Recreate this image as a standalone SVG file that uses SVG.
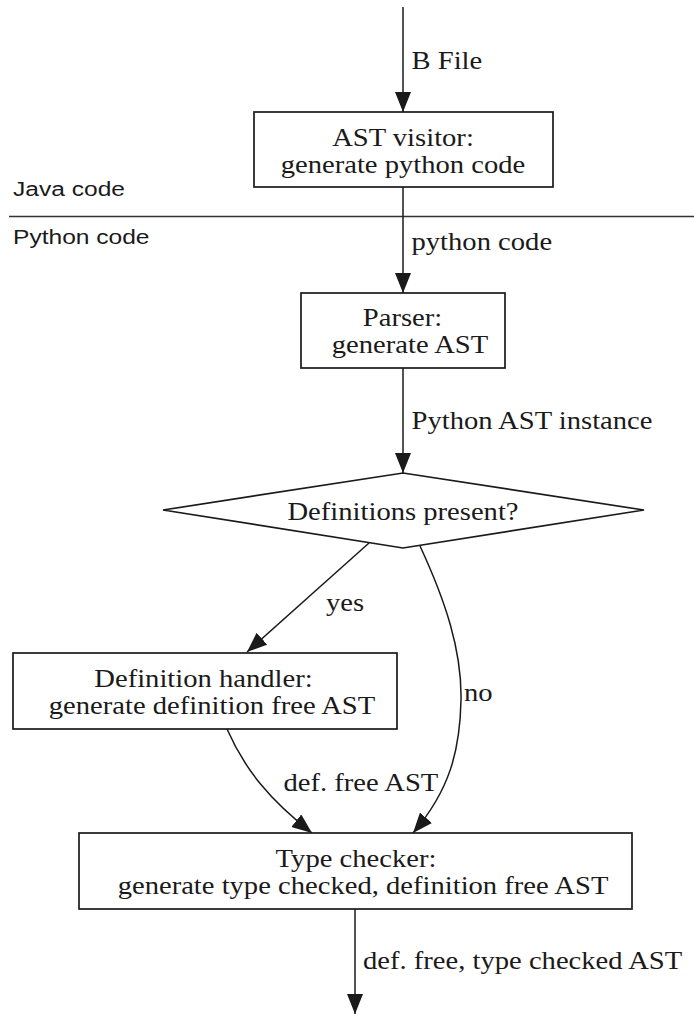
<svg xmlns="http://www.w3.org/2000/svg" width="694" height="1014" viewBox="0 0 694 1014">
  <style>
    .bg { fill: #ffffff; }
    .node { fill: #ffffff; stroke: #1a1a1a; stroke-width: 1.7; }
    .edge { fill: none; stroke: #1a1a1a; stroke-width: 1.5; marker-end: url(#ah); }
    .rule { stroke: #333333; stroke-width: 1.4; }
    .t { font-family: "Liberation Serif", "Times New Roman", serif; font-size: 26px; fill: #1a1a1a; }
    .c { text-anchor: middle; }
    .lbl { font-family: "Liberation Serif", "Times New Roman", serif; font-size: 26px; fill: #1a1a1a; text-anchor: start; }
    .zone { font-family: "Liberation Sans", Arial, sans-serif; font-size: 21px; fill: #1a1a1a; }
  </style>
  <defs>
    <marker id="ah" markerUnits="userSpaceOnUse" markerWidth="22" markerHeight="17" refX="20" refY="8" orient="auto">
      <path d="M0,0 L20,8 L0,16 z" fill="#1a1a1a"/>
    </marker>
  </defs>

  <rect class="bg" x="0" y="0" width="694" height="1014"/>

  <!-- Java / Python boundary -->
  <g id="boundary">
    <line class="rule" x1="9" y1="216.5" x2="694" y2="216.5"/>
    <text class="zone" transform="translate(13 196) scale(1.17 1)">Java code</text>
    <text class="zone" transform="translate(13 244) scale(1.17 1)">Python code</text>
  </g>

  <!-- connectors -->
  <g id="edges">
    <path class="edge" d="M403,7 L403,112"/>
    <text class="lbl" transform="translate(411.5 69) scale(1.1 1)">B File</text>

    <path class="edge" d="M403,187 L403,293"/>
    <text class="lbl" transform="translate(411.5 250) scale(1.1 1)">python code</text>

    <path class="edge" d="M403,368 L403,473"/>
    <text class="lbl" transform="translate(411.5 429) scale(1.1 1)">Python AST instance</text>

    <path class="edge" d="M369,543 L247,652"/>
    <text class="lbl" transform="translate(326 611) scale(1.1 1)">yes</text>

    <path class="edge" d="M420,546 C445,600 462,650 461,700 C460,750 450,790 413,833"/>
    <text class="lbl" transform="translate(464 701) scale(1.1 1)">no</text>

    <path class="edge" d="M227,729 C245,770 270,800 312,833"/>
    <text class="lbl" transform="translate(283.5 791) scale(1.1 1)">def. free AST</text>

    <path class="edge" d="M355,909 L355,1014"/>
    <text class="lbl" transform="translate(363 969) scale(1.1 1)">def. free, type checked AST</text>
  </g>

  <!-- nodes -->
  <g id="ast-visitor">
    <rect class="node" x="254" y="112" width="299" height="75"/>
    <text class="t c" transform="translate(403 146) scale(1.1 1)">AST visitor:</text>
    <text class="t c" transform="translate(403 173) scale(1.1 1)">generate python code</text>
  </g>

  <g id="parser">
    <rect class="node" x="301" y="293" width="204" height="75"/>
    <text class="t c" transform="translate(402.5 326) scale(1.1 1)">Parser:</text>
    <text class="t c" transform="translate(410 353) scale(1.1 1)">generate AST</text>
  </g>

  <g id="definitions-present">
    <polygon class="node" points="403,473 644,510 403,548 163,510"/>
    <text class="t c" transform="translate(403 520) scale(1.1 1)">Definitions present?</text>
  </g>

  <g id="definition-handler">
    <rect class="node" x="13" y="653" width="384" height="76"/>
    <text class="t c" transform="translate(203.5 687) scale(1.1 1)">Definition handler:</text>
    <text class="t c" transform="translate(212 714) scale(1.1 1)">generate definition free AST</text>
  </g>

  <g id="type-checker">
    <rect class="node" x="79" y="833" width="553" height="76"/>
    <text class="t c" transform="translate(356 867) scale(1.1 1)">Type checker:</text>
    <text class="t c" transform="translate(363 894) scale(1.1 1)">generate type checked, definition free AST</text>
  </g>
</svg>
